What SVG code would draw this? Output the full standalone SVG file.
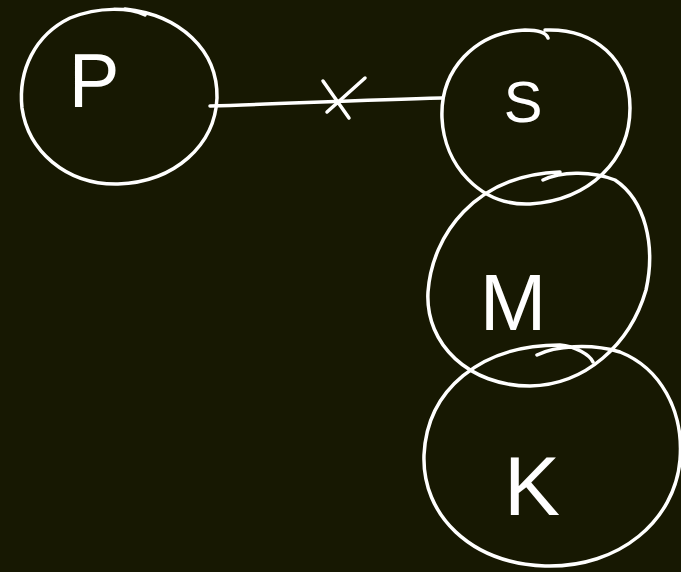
<svg xmlns="http://www.w3.org/2000/svg" width="681" height="572" viewBox="0 0 681 572">
<style>
.s{fill:none;stroke:#ffffff;stroke-width:3.5;stroke-linecap:round;stroke-linejoin:round}
.t{fill:#ffffff;font-family:"Liberation Sans",Arial,sans-serif;font-weight:normal;text-anchor:middle}
</style>
<rect width="681" height="572" fill="#171802"/>
<g id="connectors">
<path class="s" d="M210 106 C280 104 360 100 442 98"/>
<path class="s" d="M323 81 L349 118 M327 112 L365 78"/>
</g>
<g id="P">
<path class="s" d="M145 15 C130 8 100 6 70 18 C35 35 18 70 22 108 C28 150 65 185 118 184 C175 182 215 145 217 98 C218 50 180 15 125 9"/>
<text class="t" x="94" y="107" font-size="76">P</text>
</g>
<g id="S">
<path class="s" d="M548 38 C546 32 538 30 525 30 C475 32 440 70 442 118 C444 165 480 206 530 204 C590 200 630 160 630 108 C630 60 595 28 545 30"/>
<text class="t" x="523" y="122" font-size="58">S</text>
</g>
<g id="M">
<path class="s" d="M543 180 C560 172 590 170 615 180 C645 200 656 245 646 290 C630 345 585 385 530 386 C470 386 425 345 428 292 C432 235 475 175 560 172"/>
<text class="t" x="513" y="330" font-size="80">M</text>
</g>
<g id="K">
<path class="s" d="M537 355 C555 346 590 343 620 352 C660 368 684 410 680 460 C675 520 620 568 545 566 C470 563 422 515 424 455 C427 390 480 345 560 345 C575 346 590 355 593 362"/>
<text class="t" x="532" y="515" font-size="84">K</text>
</g>
</svg>
